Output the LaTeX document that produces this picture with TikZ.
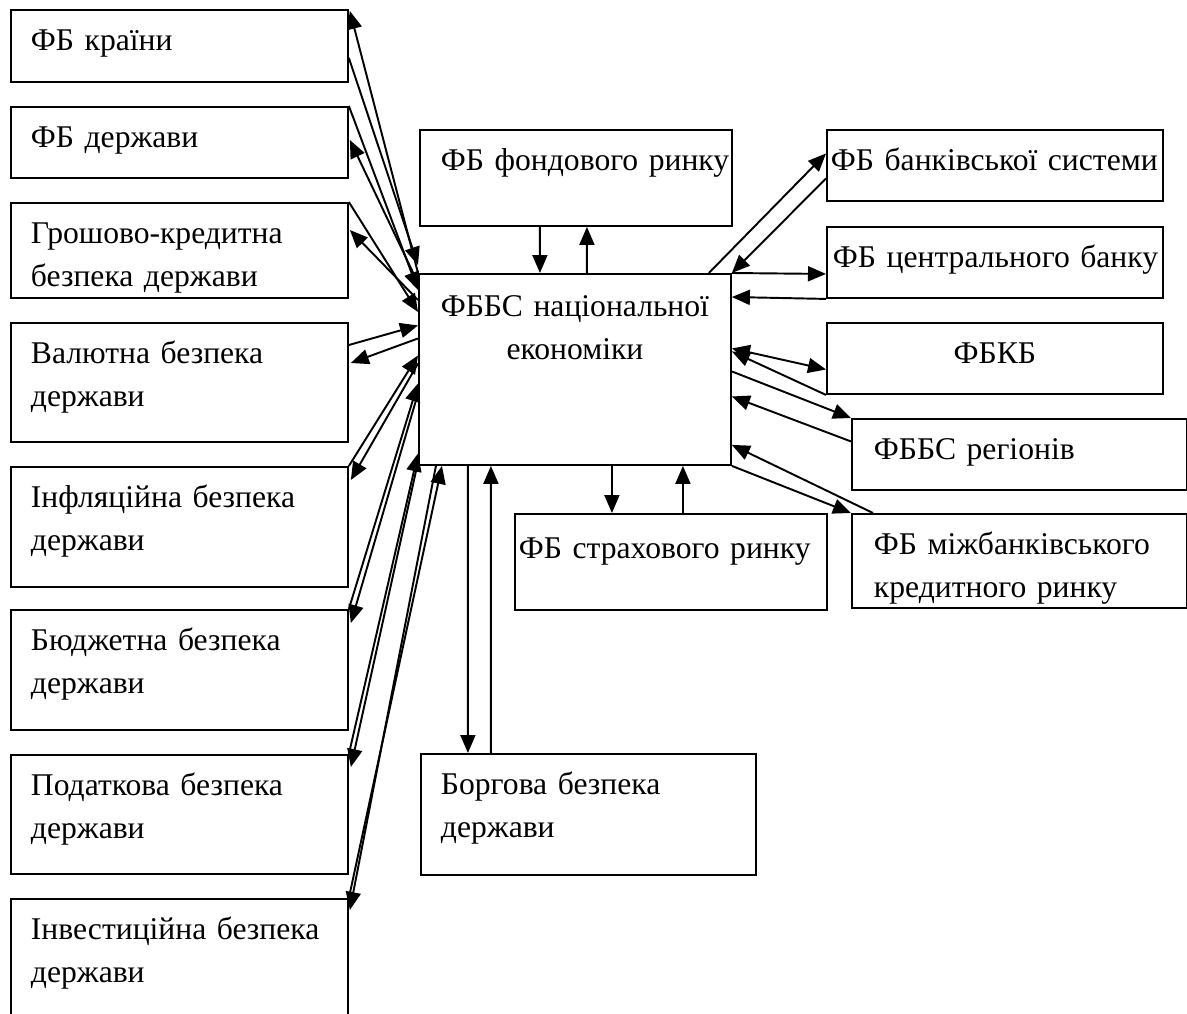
\documentclass[tikz,border=0pt]{standalone}
\usepackage{fontspec}
\setmainfont{Liberation Serif}
\usetikzlibrary{calc,arrows.meta}

\begin{document}
\begin{tikzpicture}[
    x=0.02cm, y=-0.02cm,
    box/.style={draw, line width=1.1pt, anchor=north west, align=left, inner ysep=0pt,
      text height=0.82cm, font=\fontsize{18pt}{24pt}\selectfont},
    arrow/.style={-{Triangle[length=0.36cm,width=0.3cm]}, line width=1.1pt},
    biarrow/.style={{Triangle[length=0.36cm,width=0.3cm]}-{Triangle[length=0.36cm,width=0.3cm]}, line width=1.1pt}
  ]
    \useasboundingbox (0,0) rectangle (1187,1014);

    % left column
    \node[box, inner xsep=0.4cm, text width=5.94cm, text depth=0.62cm] (kr) at (10,9) {ФБ країни};
    \node[box, inner xsep=0.4cm, text width=5.94cm, text depth=0.60cm] (dr) at (10,106) {ФБ держави};
    \node[box, inner xsep=0.4cm, text width=5.94cm, text depth=1.08cm] (gk) at (10,202) {Грошово-кредитна\\безпека~держави};
    \node[box, inner xsep=0.4cm, text width=5.94cm, text depth=1.56cm] (val) at (10,322) {Валютна~безпека\\держави};
    \node[box, inner xsep=0.4cm, text width=5.94cm, text depth=1.58cm] (inf) at (10,466) {Інфляційна~безпека\\держави};
    \node[box, inner xsep=0.4cm, text width=5.94cm, text depth=1.58cm] (bud) at (10,609) {Бюджетна~безпека\\держави};
    \node[box, inner xsep=0.4cm, text width=5.94cm, text depth=1.56cm] (pod) at (10,754) {Податкова~безпека\\держави};
    \node[box, inner xsep=0.4cm, text width=5.94cm, text depth=1.82cm] (inv) at (10,898) {Інвестиційна~безпека\\держави};

    % middle
    \node[box, inner xsep=0.42cm, text width=5.40cm, text depth=1.10cm] (fond) at (419,129) {ФБ~фондового~ринку};
    \node[box, align=center, inner xsep=0.1cm, text width=6.04cm, text height=0.86cm, text depth=2.96cm] (nac) at (418,273) {ФББС~національної\\економіки};
    \node[box, inner xsep=0.08cm, text width=6.08cm, text height=0.9cm, text depth=1.02cm] (str) at (514,513) {ФБ~страхового~ринку};
    \node[box, inner xsep=0.4cm, text width=5.90cm, text depth=1.60cm] (borg) at (420,753) {Боргова~безпека\\держави};

    % right column
    \node[box, inner xsep=0.08cm, text width=6.56cm, text depth=0.60cm] (bs) at (826,129) {ФБ~банківської~системи};
    \node[box, inner xsep=0.12cm, text width=6.48cm, text depth=0.60cm] (cb) at (826,226) {ФБ~центрального~банку};
    \node[box, align=center, inner xsep=0.1cm, text width=6.52cm, text depth=0.60cm] (kb) at (826,322) {ФБКБ};
    \node[box, inner xsep=0.44cm, text width=5.82cm, text depth=0.60cm] (reg) at (851,418) {ФББС~регіонів};
    \node[box, inner xsep=0.44cm, text width=5.82cm, text depth=1.06cm] (mb) at (851,513) {ФБ~міжбанківського\\кредитного~ринку};

    % top and bottom links
    \draw[arrow] ($(fond.south)+(-36,0)$) -- ($(nac.north)+(-35,0)$);
    \draw[arrow] ($(nac.north)+(12,0)$) -- ($(fond.south)+(11,0)$);
    \draw[arrow] ($(nac.south)+(37,0)$) -- ($(str.north)+(-59,0)$);
    \draw[arrow] ($(str.north)+(12,0)$) -- ($(nac.south)+(108,0)$);
    \draw[arrow] ($(nac.south)+(-107,0)$) -- ($(borg.north)+(-120.5,0)$);
    \draw[arrow] ($(borg.north)+(-97.5,0)$) -- ($(nac.south)+(-84,0)$);

    % right links
    \draw[arrow] ($(nac.north east)+(-23,0)$) -- ($(bs.west)+(0,-12)$);
    \draw[arrow] ($(bs.west)+(0,13)$) -- (nac.north east);
    \draw[arrow] (nac.north east) -- ($(cb.west)+(0,11.5)$);
    \draw[arrow] (cb.south west) -- ($(nac.north east)+(0,24)$);
    \draw[biarrow] ($(nac.east)+(0,-21)$) -- ($(kb.west)+(0,11)$);
    \draw[arrow] (kb.south west) -- ($(nac.east)+(0,-18)$);
    \draw[arrow] ($(nac.east)+(0,2)$) -- (reg.north west);
    \draw[arrow] ($(reg.west)+(0,-13)$) -- ($(nac.east)+(0,27)$);
    \draw[arrow] (nac.south east) -- (mb.north west);
    \draw[arrow] ($(mb.north west)+(22,0)$) -- ($(nac.south east)+(0,-21)$);

    % left links
    \draw[arrow] ($(kr.east)+(0,12)$) -- ($(nac.north west)+(0,-8)$);
    \draw[arrow] (nac.north west) -- ($(kr.north east)+(1,2)$);
    \draw[arrow] (dr.north east) -- ($(nac.north west)+(0,17)$);
    \draw[arrow] ($(nac.north west)+(0,10)$) -- ($(dr.north east)+(1,34)$);
    \draw[arrow] (gk.north east) -- ($(nac.north west)+(0,39)$);
    \draw[arrow] ($(nac.north west)+(0,27)$) -- ($(gk.north east)+(1,28)$);
    \draw[arrow] ($(val.north east)+(0,23)$) -- ($(nac.west)+(0,-44)$);
    \draw[arrow] ($(nac.west)+(0,-31)$) -- ($(val.north east)+(2,41)$);
    \draw[arrow] (inf.north east) -- ($(nac.west)+(0,-14)$);
    \draw[arrow] ($(nac.west)+(0,-6)$) -- ($(inf.north east)+(2,14)$);
    \draw[arrow] (bud.north east) -- ($(nac.west)+(0,14)$);
    \draw[arrow] ($(nac.west)+(0,24)$) -- ($(bud.north east)+(2,14)$);
    \draw[arrow] (pod.north east) -- ($(nac.west)+(0,84)$);
    \draw[arrow] ($(nac.south west)+(0,-4)$) -- ($(pod.north east)+(2,13)$);
    \draw[arrow] (inv.north east) -- ($(nac.south)+(-133,0)$);
    \draw[arrow] ($(nac.south)+(-139,0)$) -- ($(inv.north east)+(1,12)$);
  \end{tikzpicture}
\end{document}
